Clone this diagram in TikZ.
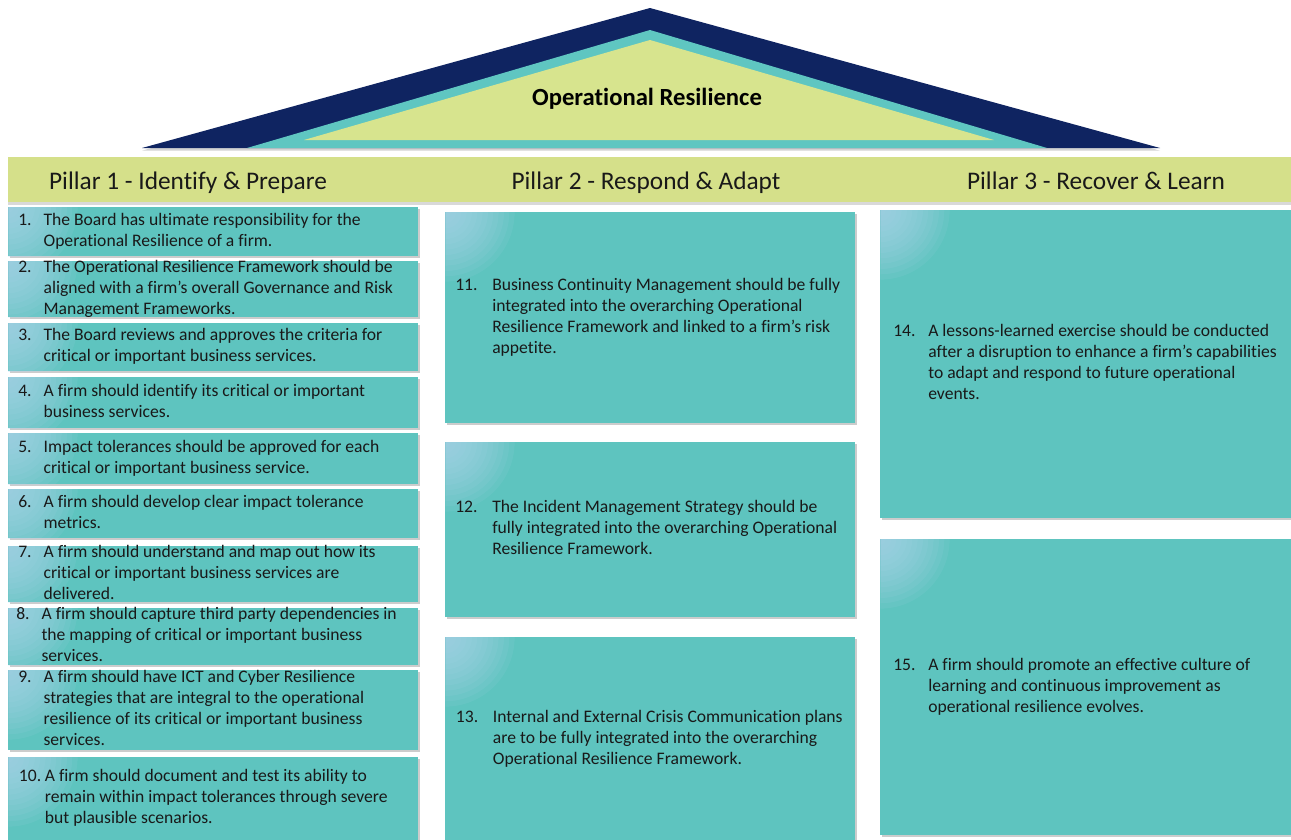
\documentclass[tikz,border=0pt]{standalone}
\usepackage{fontspec}
\setmainfont{Carlito}[Ligatures={NoCommon}]
\usetikzlibrary{shadows}
\definecolor{roofnavy}{HTML}{0F2461}
\definecolor{roofteal}{HTML}{5FC6C1}
\definecolor{rooflime}{HTML}{D7E48E}
\definecolor{bandlime}{HTML}{D5E08A}
\definecolor{cardteal}{HTML}{5EC4BF}
\definecolor{glowblue}{HTML}{B2D6EE}
\newcommand{\pitem}[3]{\makebox[#1][l]{#2}\begin{tabular}[t]{@{}l@{}}#3\end{tabular}}

\begin{document}
\begin{tikzpicture}[x=0.75pt, y=-0.75pt,
	card/.style={fill=cardteal, anchor=north west, inner sep=0pt,
		drop shadow={shadow xshift=1.5pt, shadow yshift=-1.5pt, opacity=0.4},
		path picture={\foreach \r in {4,8,...,52}
			\fill[glowblue, opacity=0.1] (path picture bounding box.north west) circle (\r pt);}},
	itemtext/.style={anchor=west, inner sep=0pt, font=\fontsize{13.2}{15.75}\selectfont, text=black!90},
	pillar/.style={anchor=base, font=\fontsize{19}{22}\selectfont, text=black!90}]
		\useasboundingbox (0,0) rectangle (1291,839);
		% roof
		\fill[roofnavy, drop shadow={shadow xshift=0pt, shadow yshift=-2pt, opacity=0.35}] (142,148) -- (650,8) -- (1160,148) -- cycle;
		\fill[roofteal] (247,148) -- (650,30) -- (1047,148) -- cycle;
		\fill[rooflime] (304,140) -- (650,40) -- (994,140) -- cycle;
		\node[font=\bfseries\fontsize{18.5}{21}\selectfont] (roof) at (647,99) {Operational Resilience};
		% pillar heads
		\node[fill=bandlime, anchor=north west, inner sep=0pt, minimum width=962.25pt, minimum height=33.75pt,
			drop shadow={shadow xshift=0pt, shadow yshift=-2pt, opacity=0.3}] (band) at (8,157) {};
		\node[pillar] (h1) at (188,189) {Pillar 1 - Identify \& Prepare};
		\node[pillar] (h2) at (646,189) {Pillar 2 - Respond \& Adapt};
		\node[pillar] (h3) at (1096,189) {Pillar 3 - Recover \& Learn};
		% pillar 1
		\foreach \n/\y/\h in {1/207/36.75pt, 2/261/42pt, 3/323/36pt, 4/377/38.25pt, 5/433/38.25pt,
			6/489/36.75pt, 7/546/42pt, 8/608/42.75pt, 9/670/60pt, 10/757/66pt}
			\node[card, minimum width=307.5pt, minimum height=\h] (b\n) at (8,\y) {};
		\node[itemtext] (t1) at ([xshift=7.5pt]b1.west) {\pitem{19pt}{1.}{The Board has ultimate responsibility for the\\Operational Resilience of a firm.}};
		\node[itemtext] (t2) at ([xshift=7.5pt]b2.west) {\pitem{19pt}{2.}{The Operational Resilience Framework should be\\aligned with a firm’s overall Governance and Risk\\Management Frameworks.}};
		\node[itemtext] (t3) at ([xshift=7.5pt]b3.west) {\pitem{19pt}{3.}{The Board reviews and approves the criteria for\\critical or important business services.}};
		\node[itemtext] (t4) at ([xshift=7.5pt]b4.west) {\pitem{19pt}{4.}{A firm should identify its critical or important\\business services.}};
		\node[itemtext] (t5) at ([xshift=7.5pt]b5.west) {\pitem{19pt}{5.}{Impact tolerances should be approved for each\\critical or important business service.}};
		\node[itemtext] (t6) at ([xshift=7.5pt]b6.west) {\pitem{19pt}{6.}{A firm should develop clear impact tolerance\\metrics.}};
		\node[itemtext] (t7) at ([xshift=7.5pt]b7.west) {\pitem{19pt}{7.}{A firm should understand and map out how its\\critical or important business services are\\delivered.}};
		\node[itemtext] (t8) at ([xshift=6pt]b8.west) {\pitem{19pt}{8.}{A firm should capture third party dependencies in\\the mapping of critical or important business\\services.}};
		\node[itemtext] (t9) at ([xshift=7.5pt]b9.west) {\pitem{19pt}{9.}{A firm should have ICT and Cyber Resilience\\strategies that are integral to the operational\\resilience of its critical or important business\\services.}};
		\node[itemtext] (t10) at ([xshift=8pt,yshift=2pt]b10.west) {\pitem{19.5pt}{10.}{A firm should document and test its ability to\\remain within impact tolerances through severe\\but plausible scenarios.}};
		% pillar 2
		\node[card, minimum width=307.5pt, minimum height=158.25pt] (b11) at (445,212) {};
		\node[card, minimum width=307.5pt, minimum height=131.25pt] (b12) at (445,442) {};
		\node[card, minimum width=307.5pt, minimum height=153.75pt] (b13) at (445,637) {};
		\node[itemtext] (t11) at ([xshift=7.5pt]b11.west) {\pitem{27.75pt}{11.}{Business Continuity Management should be fully\\integrated into the overarching Operational\\Resilience Framework and linked to a firm's risk\\appetite.}};
		\node[itemtext] (t12) at ([xshift=7.5pt]b12.west) {\pitem{27.75pt}{12.}{The Incident Management Strategy should be\\fully integrated into the overarching Operational\\Resilience Framework.}};
		\node[itemtext] (t13) at ([xshift=8pt]b13.west) {\pitem{27.75pt}{13.}{Internal and External Crisis Communication plans\\are to be fully integrated into the overarching\\Operational Resilience Framework.}};
		% pillar 3
		\node[card, minimum width=311.25pt, minimum height=231pt] (b14) at (880,210) {};
		\node[card, minimum width=311.25pt, minimum height=222pt] (b15) at (880,539) {};
		\node[itemtext] (t14) at ([xshift=9.75pt]b14.west) {\pitem{26.25pt}{14.}{A lessons-learned exercise should be conducted\\after a disruption to enhance a firm’s capabilities\\to adapt and respond to future operational\\events.}};
		\node[itemtext] (t15) at ([xshift=9.75pt]b15.west) {\pitem{26.25pt}{15.}{A firm should promote an effective culture of\\learning and continuous improvement as\\operational resilience evolves.}};
	\end{tikzpicture}
\end{document}
